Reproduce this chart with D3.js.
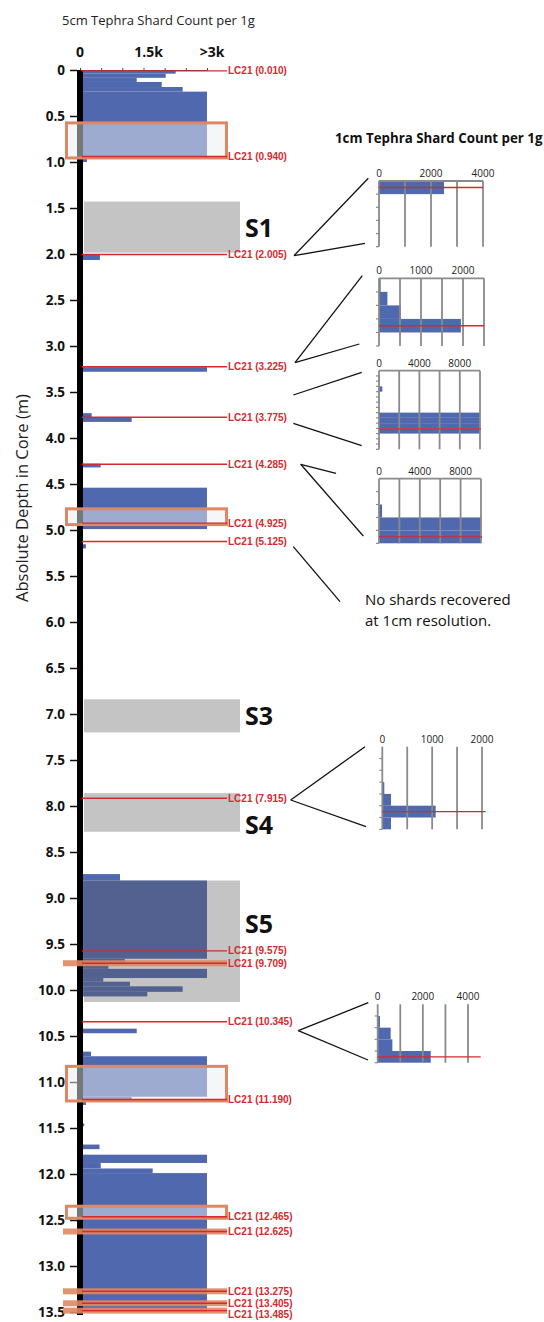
<!DOCTYPE html>
<html>
<head>
<meta charset="utf-8">
<script src="https://cdn.jsdelivr.net/npm/d3@7"></script>
<style>
  body { margin: 0; background: #fff; }
  svg { display: block; }
  text { font-family: "Open Sans", "DejaVu Sans", sans-serif; }
</style>
</head>
<body>
<svg id="chart" width="544" height="1322"></svg>
<script>
// ---- depth axis ----
const depthTicks = [0, 0.5, 1.0, 1.5, 2.0, 2.5, 3.0, 3.5, 4.0, 4.5, 5.0, 5.5, 6.0, 6.5,
                    7.0, 7.5, 8.0, 8.5, 9.0, 9.5, 10.0, 10.5, 11.0, 11.5, 12.0, 12.5, 13.0, 13.5];
const depthTickLabels = ["0", "0.5", "1.0", "1.5", "2.0", "2.5", "3.0", "3.5", "4.0", "4.5", "5.0", "5.5", "6.0", "6.5",
                         "7.0", "7.5", "8.0", "8.5", "9.0", "9.5", "10.0", "10.5", "11.0", "11.5", "12.0", "12.5", "13.0", "13.5"];

// ---- 5 cm shard count axis ----
const countTicks = [0, 500, 1000, 1500, 2000, 2500, 3000];
const countTickLabels = ["0", "", "", "1.5k", "", "", ">3k"];

// ---- 5 cm shard counts (depth interval in m, shards per 1 g; >3k capped) ----
const binTop    = [0, 0.04, 0.085, 0.13, 0.185, 0.235, 0.955, 2.01, 3.23, 3.73, 3.775, 4.28, 4.54, 5.155,
                   8.74, 8.81, 9.66, 9.71, 9.77, 9.87, 9.91, 9.96, 10.02, 10.42, 10.67, 10.72, 11.16, 11.21,
                   11.45, 11.68, 11.79, 11.88, 11.94, 11.99];
const binBottom = [0.04, 0.085, 0.13, 0.185, 0.235, 0.955, 1.0, 2.065, 3.28, 3.775, 3.825, 4.32, 4.99, 5.2,
                   8.81, 9.66, 9.71, 9.77, 9.87, 9.91, 9.96, 10.02, 10.07, 10.47, 10.72, 11.16, 11.21, 11.25,
                   11.48, 11.73, 11.88, 11.94, 11.99, 13.5];
const binCount  = [2260, 2025, 1340, 1930, 2425, 3000, 165, 470, 3000, 275, 1220, 490, 3000, 140,
                   945, 3000, 1060, 670, 3000, 550, 1180, 2425, 1590, 1340, 260, 3000, 1220, 140,
                   100, 460, 3000, 490, 1717, 3000];

// ---- tephra zones ----
const zoneNames  = ["S1", "S3", "S4", "S5"];
const zoneTop    = [1.43, 6.84, 7.86, 8.81];
const zoneBottom = [1.985, 7.2, 8.28, 10.13];

// ---- LC21 sample depths (m) ----
const sampleName  = "LC21";
const sampleDepth = [0.010, 0.940, 2.005, 3.225, 3.775, 4.285, 4.925, 5.125, 7.915, 9.575, 9.709,
                     10.345, 11.190, 12.465, 12.625, 13.275, 13.405, 13.485];
const boxedDepth  = [0.940, 4.925, 11.190, 12.465];
const boxedTop    = [0.575, 4.77, 10.83, 12.35];
const flaggedDepth = [9.709, 12.625, 13.275, 13.405, 13.485];

// ---- 1 cm shard counts around selected samples ----
const insetSample = [2.005, 3.225, 3.775, 4.285, 7.915, 10.345];
const insetStart  = [2.00, 3.19, 3.664, 4.24, 7.86, 10.30];
const insetMax    = [4000, 2500, 10000, 10000, 2000, 4000];
const insetStep   = [1000, 500, 2000, 2000, 500, 1000];
const insetLabels = [[0, 2000, 4000], [0, 1000, 2000], [0, 4000, 8000], [0, 4000, 8000], [0, 1000, 2000], [0, 2000, 4000]];
const insetCounts = [
  [2500, 0, 0, 0, 0],
  [40, 200, 520, 1950, 0],
  [0, 80, 0, 330, 0, 0, 0, 0, 10000, 10000, 10000, 10000, 0, 0, 0],
  [0, 0, 300, 10000, 10000],
  [0, 0, 0, 40, 175, 1070, 175],
  [0, 100, 575, 650, 2350]
];
const noShardsText = ["No shards recovered", "at 1cm resolution."];

// ---- layout ----
const svg = d3.select("#chart");
const y = d3.scaleLinear().domain([0, 13.5]).range([70, 1312]);
const x = d3.scaleLinear().domain([0, 3000]).range([80, 207]);
const zoneRight = 240;
const lineLeft = 82, lineRight = 227;
const blue = "#5068ae", red = "#d42a2f", orange = "#de8763";

// titles
svg.append("text").attr("x", 62).attr("y", 25).attr("font-size", 13).attr("fill", "#222")
  .text("5cm Tephra Shard Count per 1g");
svg.append("text").attr("transform", "translate(28,498) rotate(-90)").attr("text-anchor", "middle")
  .attr("font-size", 16.5).attr("fill", "#222").text("Absolute Depth in Core (m)");
svg.append("text").attr("x", 335).attr("y", 143).attr("font-size", 13.3).attr("font-weight", 700)
  .attr("fill", "#111").text("1cm Tephra Shard Count per 1g");

// 5 cm bars
const bins = binCount.map((c, i) => ({ t: binTop[i], b: binBottom[i], c }));
svg.append("g").selectAll("rect").data(bins).join("rect")
  .attr("x", x(0)).attr("y", d => y(d.t))
  .attr("width", d => x(Math.min(d.c, 3000)) - x(0))
  .attr("height", d => y(d.b) - y(d.t))
  .attr("fill", blue);

// zone shading (dark veil over the bars)
const zones = zoneNames.map((n, i) => ({ n, t: zoneTop[i], b: zoneBottom[i] }));
svg.append("g").selectAll("rect").data(zones).join("rect")
  .attr("x", 84).attr("y", d => y(d.t)).attr("width", zoneRight - 84)
  .attr("height", d => y(d.b) - y(d.t)).attr("fill", "#555").attr("fill-opacity", 0.35);
const zoneLabelFrac = [0.52, 0.5, 0.82, 0.36];
svg.append("g").selectAll("text").data(zones).join("text")
  .attr("x", 245).attr("y", (d, i) => y(d.t + (d.b - d.t) * zoneLabelFrac[i]))
  .attr("dy", "0.36em").attr("font-size", 25).attr("font-weight", 700).attr("fill", "#111")
  .text(d => d.n);

// core axis bar
svg.append("rect").attr("x", 77).attr("y", 70).attr("width", 6).attr("height", 1245).attr("fill", "#000");

// top count axis
const topAxis = d3.axisTop(x).tickValues(countTicks).tickSize(2).tickSizeOuter(0).tickFormat("");
const gTop = svg.append("g").attr("transform", "translate(0,70)").call(topAxis);
gTop.selectAll("path,line").attr("stroke", "#444");
svg.append("g").selectAll("text").data(countTicks.filter((v, i) => countTickLabels[i]))
  .join("text")
  .attr("x", v => x(v) + (v > 0 ? 5 : 0)).attr("y", 57).attr("text-anchor", "middle")
  .attr("font-size", 14).attr("font-weight", 700).attr("fill", "#111")
  .text(v => countTickLabels[countTicks.indexOf(v)]);

// depth axis
const leftAxis = d3.axisLeft(y).tickValues(depthTicks).tickSize(7).tickPadding(5)
  .tickFormat((d, i) => depthTickLabels[i]);
const gLeft = svg.append("g").attr("transform", "translate(77,0)").call(leftAxis);
gLeft.select(".domain").remove();
gLeft.selectAll("line").attr("stroke", "#111").attr("stroke-width", 1.5);
gLeft.selectAll("text").attr("font-size", 13.5).attr("font-weight", 700).attr("fill", "#111")
  .style("font-family", "'Open Sans', sans-serif");

// flagged sample bands
svg.append("g").selectAll("rect").data(flaggedDepth).join("rect")
  .attr("x", 63).attr("y", d => y(d) - 3).attr("width", 164).attr("height", 6)
  .attr("fill", orange).attr("fill-opacity", 0.9);

// boxed sample intervals
const boxes = boxedDepth.map((d, i) => ({ t: boxedTop[i], b: d }));
svg.append("g").selectAll("rect").data(boxes).join("rect")
  .attr("x", 66.5).attr("y", d => y(d.t)).attr("width", 160)
  .attr("height", d => y(d.b) - y(d.t) + 1.5)
  .attr("fill", "#e9eef2").attr("fill-opacity", 0.5)
  .attr("stroke", orange).attr("stroke-width", 3);

// sample lines and labels (labels nudged apart where samples crowd together)
svg.append("g").selectAll("line").data(sampleDepth).join("line")
  .attr("x1", lineLeft).attr("x2", lineRight)
  .attr("y1", d => y(d)).attr("y2", d => y(d))
  .attr("stroke", red).attr("stroke-width", 1.4);
let lastY = -Infinity;
const labelY = sampleDepth.map(d => { const v = Math.max(y(d), lastY + 11.4); lastY = v; return v; });
svg.append("g").selectAll("text").data(sampleDepth).join("text")
  .attr("x", 228).attr("y", (d, i) => labelY[i]).attr("dy", "0.35em")
  .attr("font-size", 10).attr("font-weight", 700).attr("fill", red)
  .style("font-family", "'Liberation Sans', Arial, sans-serif")
  .text(d => `${sampleName} (${d.toFixed(3)})`);

// 1 cm insets
const insetBox = [
  { x0: 379, x1: 483, y0: 181, y1: 246.7, top: true, redEnd: 483,
    links: [[294, 255.7, 368.3, 178.3], [294, 255.7, 365, 243.3]] },
  { x0: 379, x1: 484, y0: 278.3, y1: 346, top: true, redEnd: 484,
    links: [[295, 362.7, 362.3, 275.7], [295, 362.7, 359.3, 344]] },
  { x0: 379, x1: 480, y0: 370.7, y1: 449.3, top: true, redEnd: 481,
    links: [[293.3, 395, 361.7, 372.3], [293.3, 423.3, 361.7, 445.7]] },
  { x0: 379, x1: 481, y0: 478.7, y1: 543.3, top: true, redEnd: 482,
    links: [[300.7, 464.3, 336, 473.3], [300.7, 464.3, 363.3, 536]] },
  { x0: 382.3, x1: 482, y0: 746.7, y1: 829.3, top: false, redEnd: 485.7,
    links: [[290.7, 800, 365, 746.7], [290.7, 800, 366, 826.7]] },
  { x0: 377.7, x1: 468, y0: 1004.3, y1: 1062.7, top: false, redEnd: 480.7,
    links: [[298.3, 1030.7, 368.3, 1002.7], [298.3, 1030.7, 368, 1060]] }
];
const grid = "#8a8a8a";
insetBox.forEach((L, k) => {
  const g = svg.append("g");
  const counts = insetCounts[k];
  const n = counts.length;
  const ix = d3.scaleLinear().domain([0, insetMax[k]]).range([L.x0, L.x1]);
  const iy = d3.scaleLinear().domain([insetStart[k], insetStart[k] + n / 100]).range([L.y0, L.y1]);
  const rows = counts.map((c, i) => ({ t: insetStart[k] + i / 100, c }));
  // connectors
  g.selectAll("line.link").data(L.links).join("line").attr("class", "link")
    .attr("x1", d => d[0]).attr("y1", d => d[1]).attr("x2", d => d[2]).attr("y2", d => d[3])
    .attr("stroke", "#111").attr("stroke-width", 1.3);
  // bars
  g.selectAll("rect").data(rows.filter(r => r.c > 0)).join("rect")
    .attr("x", ix(0)).attr("y", r => iy(r.t)).attr("width", r => ix(Math.min(r.c, insetMax[k])) - ix(0))
    .attr("height", r => iy(r.t + 0.01) - iy(r.t)).attr("fill", blue);
  // vertical grid
  const gv = d3.range(0, insetMax[k] + 1, insetStep[k]);
  g.selectAll("line.gv").data(gv).join("line").attr("class", "gv")
    .attr("x1", v => ix(v)).attr("x2", v => ix(v)).attr("y1", L.y0).attr("y2", L.y1)
    .attr("stroke", grid).attr("stroke-width", 1.8);
  if (L.top) g.append("line").attr("x1", L.x0).attr("x2", L.x1).attr("y1", L.y0).attr("y2", L.y0)
    .attr("stroke", grid).attr("stroke-width", 1.8);
  // depth ticks
  g.selectAll("line.tk").data(d3.range(1, n + 1)).join("line").attr("class", "tk")
    .attr("x1", L.x0 - 3).attr("x2", L.x0).attr("y1", i => iy(insetStart[k] + i / 100)).attr("y2", i => iy(insetStart[k] + i / 100))
    .attr("stroke", grid).attr("stroke-width", 1.2);
  // sample line
  g.append("line").attr("x1", L.x0).attr("x2", L.redEnd)
    .attr("y1", iy(insetSample[k])).attr("y2", iy(insetSample[k]))
    .attr("stroke", red).attr("stroke-width", 1.4);
  // labels
  g.selectAll("text").data(insetLabels[k]).join("text")
    .attr("x", v => ix(v)).attr("y", L.y0 - 4).attr("text-anchor", "middle")
    .attr("font-size", 10).attr("fill", "#222").text(v => v);
});

// note for the 5.125 sample
svg.append("line").attr("x1", 293.3).attr("y1", 546.7).attr("x2", 340).attr("y2", 601.7)
  .attr("stroke", "#111").attr("stroke-width", 1.3);
svg.append("g").selectAll("text").data(noShardsText).join("text")
  .attr("x", 365).attr("y", (d, i) => 605 + i * 21).attr("font-size", 15).attr("fill", "#111")
  .text(d => d);
</script>
</body>
</html>
